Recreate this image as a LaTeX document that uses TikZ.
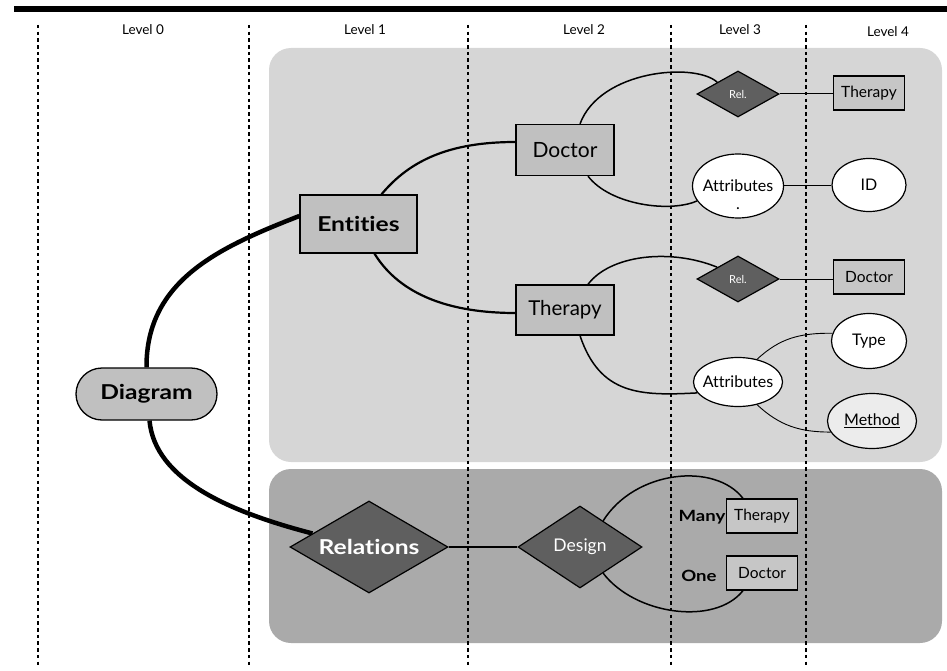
\documentclass[tikz,border=0pt]{standalone}
\usepackage{fontspec}
\setmainfont{Lato}[RawFeature=-liga]
\newfontfamily\widefont{Lato}[FakeStretch=1.2, RawFeature=-liga]
\usetikzlibrary{shapes.geometric,calc}
\pgfdeclarelayer{panels}
\pgfdeclarelayer{conns}
\pgfsetlayers{panels,conns,main}
\definecolor{panelA}{HTML}{D6D6D6}
\definecolor{panelB}{HTML}{AAAAAA}
\definecolor{boxgrey}{HTML}{C0C0C0}
\definecolor{boxlight}{HTML}{C6C6C6}
\definecolor{diam}{HTML}{5F5F5F}
\definecolor{methfill}{HTML}{ECECEC}
\newcommand{\zb}[1]{\makebox[0pt]{#1}}
\newcommand{\fs}[1]{\fontsize{#1}{#1}\selectfont}
\begin{document}
\begin{tikzpicture}[x=1pt,y=-1pt,
  levelline/.style={line width=2pt, dash pattern=on 3.5pt off 3.2pt},
  leveltext/.style={font=\fs{13.5}, inner sep=0pt},
  bigbox/.style={rectangle, draw, line width=1.3pt, fill=boxgrey, inner sep=0pt},
  smallbox/.style={rectangle, draw, line width=1.2pt, fill=boxlight, inner sep=0pt, minimum width=71, minimum height=34, font=\fs{15.5}},
  reldiam/.style={diamond, draw, line width=1.2pt, fill=diam, text=white, inner sep=0pt},
  ell/.style={ellipse, draw, line width=1.2pt, fill=white, inner sep=0pt, font=\fs{16}},
  plain/.style={inner sep=0pt},
  thick1/.style={line width=4.5pt},
  thick2/.style={line width=2.2pt},
  mid/.style={line width=1.5pt},
  thin/.style={line width=1pt}
]
\useasboundingbox (0,0) rectangle (947,671);
% top bar
\draw[line width=5.5pt] (14,9) -- (947,9);
\begin{pgfonlayer}{panels}
\fill[panelA, rounded corners=22pt] (269,48) rectangle (942,462);
\fill[panelB, rounded corners=22pt] (269,469) rectangle (942,643);
\end{pgfonlayer}
% level lines
\begin{pgfonlayer}{conns}
\foreach \xx in {38,248.5,468,670.5,805.5} \draw[levelline] (\xx,25) -- (\xx,666);
\end{pgfonlayer}
% level labels
\node[leveltext] (l0) at (143,30) {Level 0};
\node[leveltext] (l1) at (365,30) {Level 1};
\node[leveltext] (l2) at (584,30) {Level 2};
\node[leveltext] (l3) at (740,30) {Level 3};
\node[leveltext] (l4) at (888,32) {Level 4};

% nodes
\node[bigbox, rounded corners=26pt, minimum width=141, minimum height=52, font=\fs{20.5}\widefont\bfseries] (dia) at (146.5,394) {Diagram};
\node[bigbox, minimum width=117, minimum height=58, font=\fs{20.5}\widefont\bfseries] (ent) at (358.5,224) {Entities};
\node[bigbox, minimum width=98, minimum height=51, font=\fs{21}] (doc) at (565,150) {Doctor};
\node[bigbox, minimum width=98, minimum height=50, font=\fs{20.5}] (ther) at (565,310) {Therapy};
\node[reldiam, minimum width=158, minimum height=92, aspect=1.72, font=\fs{20.5}\widefont\bfseries] (rel) at (369,547) {Relations};
\node[reldiam, minimum width=124, minimum height=82, aspect=1.5, font=\fs{17.5}] (des) at (580,547) {Design};
\node[reldiam, minimum width=82, minimum height=46, aspect=1.78, font=\fs{11}] (r1) at (738,94) {Rel.};
\node[reldiam, minimum width=82, minimum height=46, aspect=1.78, font=\fs{11}] (r2) at (738,279) {Rel.};
\node[smallbox] (t4) at (869,93) {Therapy};
\node[smallbox] (d4) at (869,277) {Doctor};
\node[ell, minimum width=91, minimum height=64] (a1) at (738,186) {\zb{Attributes}\zb{\raisebox{-1.1em}[0pt][0pt]{.}}};
\node[ell, minimum width=74, minimum height=53] (id) at (869,185) {\zb{ID}};
\node[ell, minimum width=89, minimum height=49] (a2) at (738,382) {\zb{Attributes}};
\node[ell, minimum width=75, minimum height=55] (ty) at (869,341) {\zb{Type}};
\node[ell, fill=methfill, minimum width=89, minimum height=55] (me) at (872,421) {\zb{\underline{Method}}};
\node[smallbox] (tb) at (762,516) {Therapy};
\node[smallbox] (db) at (762,573) {Doctor};
\node[plain, font=\fs{15.5}\widefont\bfseries] (many) at (702,517) {Many};
\node[plain, font=\fs{15.5}\widefont\bfseries] (one) at (699,576) {One};

% connectors
\begin{pgfonlayer}{conns}
\draw[thick1] (dia.north) .. controls (146,280) and (220,247) .. ([yshift=8pt]ent.west);
\draw[thick1] ([xshift=3pt]dia.south) .. controls (155,480) and (230,512) .. ($(rel.west)!0.29!(rel.north)$);
\draw[thick2] ([xshift=23pt]ent.north) .. controls (410,160) and (450,142) .. ([yshift=8pt]doc.west);
\draw[thick2] ([xshift=16pt]ent.south) .. controls (400,295) and (450,313) .. ([yshift=-3pt]ther.west);
\draw[mid] ([xshift=15pt]doc.north) .. controls (600,70) and (695,62) .. (r1.north west);
\draw[mid] ([xshift=23pt]doc.south) .. controls (610,205) and (670,213) .. (a1.200);
\draw[mid] ([xshift=23pt]ther.north) .. controls (610,255) and (670,248) .. (r2.north west);
\draw[mid] ([xshift=15pt]ther.south) .. controls (600,395) and (640,396) .. (a2.195);
\draw[thin] (r1.east) -- (r1.east -| t4.west);
\draw[thin] (a1.east) -- (a1.east -| id.west);
\draw[thin] (r2.east) -- (r2.east -| d4.west);
\draw[line width=0.9pt] (a2.50) .. controls (780,338) and (800,333) .. (ty.168);
\draw[line width=0.9pt] (a2.-50) .. controls (780,426) and (800,432) .. (me.195);
\draw[thick2] (rel.east) -- (des.west);
\draw[mid] ($(des.north)!0.37!(des.east)$) .. controls (635,470) and (715,462) .. ([xshift=-19pt]tb.north);
\draw[mid] ($(des.south)!0.37!(des.east)$) .. controls (635,615) and (715,626) .. ([xshift=-19pt]db.south);
\end{pgfonlayer}
\end{tikzpicture}
\end{document}
